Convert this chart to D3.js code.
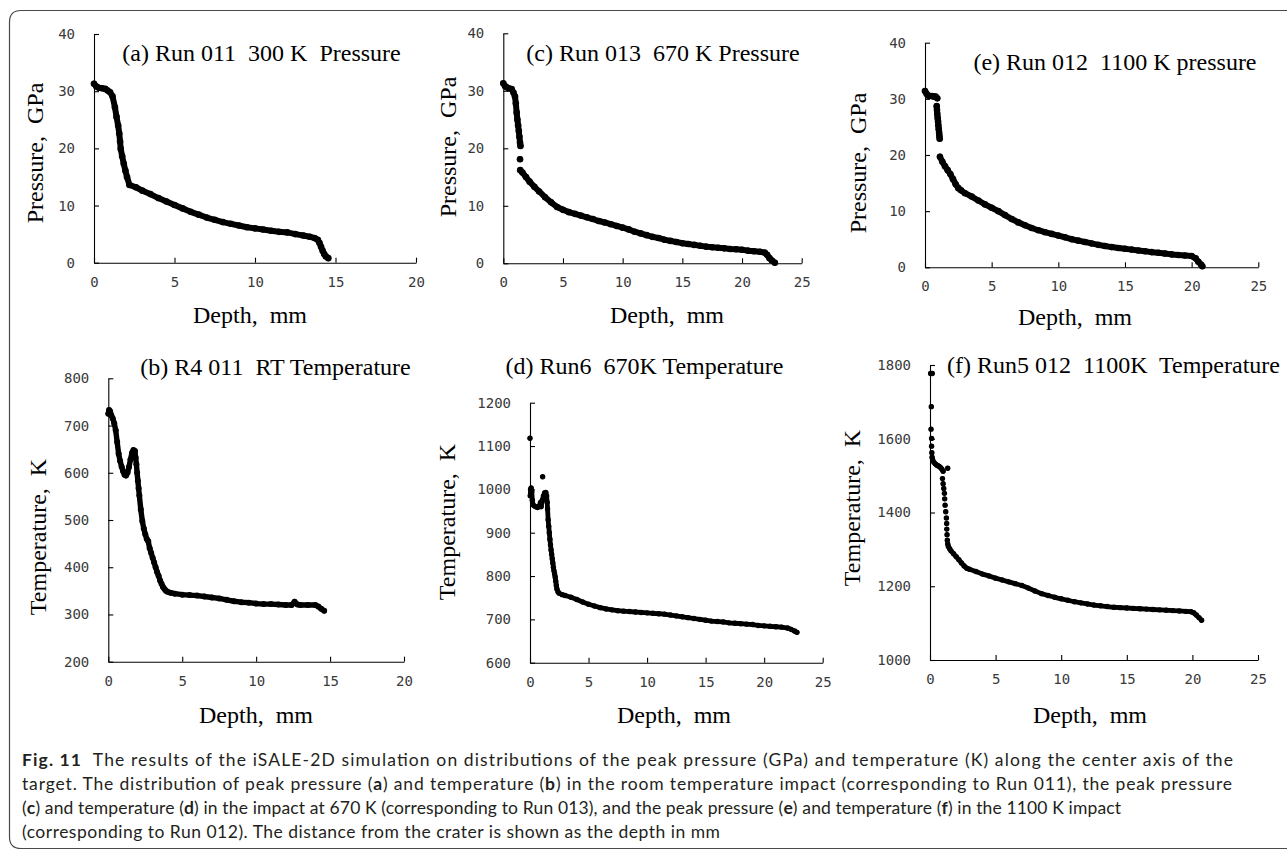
<!DOCTYPE html>
<html><head><meta charset="utf-8">
<script src="https://cdn.jsdelivr.net/npm/d3@7"></script>
<style>body{margin:0;background:#fff}</style>
</head><body>
<svg id="c" width="1287" height="850"></svg>
<script>
// ---------------- DATA ----------------
const ticksP = [0, 10, 20, 30, 40];
const ticksX20 = [0, 5, 10, 15, 20];
const ticksX25 = [0, 5, 10, 15, 20, 25];
const ticksTB = [200, 300, 400, 500, 600, 700, 800];
const ticksTD = [600, 700, 800, 900, 1000, 1100, 1200];
const ticksTF = [1000, 1200, 1400, 1600, 1800];

const titles = ["(a) Run 011  300 K  Pressure", "(b) R4 011  RT Temperature", "(c) Run 013  670 K Pressure",
                "(d) Run6  670K Temperature", "(e) Run 012  1100 K pressure", "(f) Run5 012  1100K  Temperature"];
const yLabels = ["Pressure,  GPa", "Temperature,  K", "Pressure,  GPa", "Temperature,  K", "Pressure,  GPa", "Temperature,  K"];
const xLabel = "Depth,  mm";

// (a) Run 011 pressure, GPa  (null = break in the dotted trace)
const depthA = [0,0.15,0.3,0.5,0.7,0.85,1.0,1.15,1.3,1.4,1.5,1.57,1.62,1.66,1.75,1.85,1.95,2.05,2.2,2.6,3.0,3.5,4.0,4.5,5.0,5.5,6.0,6.5,7.0,7.5,8.0,8.5,9.0,9.5,10.0,10.5,11.0,11.5,12.0,12.5,13.0,13.4,13.7,13.9,14.0,14.1,14.2,14.3,14.4,14.55];
const pressureA = [31.3,30.8,30.6,30.5,30.4,30.1,29.8,29.1,27.2,25.5,24.0,22.6,21.2,19.9,18.6,17.3,16.1,15.0,13.6,13.2,12.6,12.0,11.3,10.7,10.1,9.5,8.9,8.4,7.9,7.5,7.1,6.8,6.5,6.2,6.0,5.8,5.6,5.4,5.3,5.0,4.75,4.55,4.3,4.0,3.5,2.8,2.1,1.5,1.1,0.8];

// (b) R4 011 temperature, K
const depthB = [0,0.05,0.12,0.2,0.3,0.4,0.5,0.6,0.7,0.8,0.9,1.0,1.1,1.2,1.3,1.4,1.5,1.6,1.7,1.8,1.85,1.9,1.95,2.0,2.05,2.1,2.2,2.3,2.4,2.5,2.6,2.7,2.8,2.9,3.0,3.1,3.2,3.3,3.4,3.5,3.6,3.7,3.8,3.9,4.0,4.2,4.5,5.0,5.5,6.0,6.5,7.0,7.5,8.0,8.5,9.0,9.5,10.0,10.5,11.0,11.5,12.0,12.4,12.6,12.8,13.0,13.5,14.0,14.2,14.4,14.6];
const tempB = [725,733,730,722,715,705,690,665,640,625,613,603,596,594,600,612,628,642,648,646,632,618,600,583,567,552,522,498,482,470,460,455,440,430,420,410,400,390,382,372,365,358,354,350,348,346,344,342,341,340,338,336,334,331,328,326,325,323,322,322,321,320,320,327,321,320,320,320,317,312,308];

// (c) Run 013 pressure, GPa
const depthC = [0,0.15,0.3,0.5,0.7,0.85,0.98,1.05,1.12,1.18,1.24,1.3,1.35,1.4,1.44,null,1.4,null,1.42,1.6,1.9,2.2,2.6,3.0,3.5,4.0,4.5,5.0,5.5,6.0,6.5,7.0,7.5,8.0,8.5,9.0,9.5,10.0,10.5,11.0,11.5,12.0,12.5,13.0,13.5,14.0,14.5,15.0,15.5,16.0,16.5,17.0,17.5,18.0,18.5,19.0,19.5,20.0,20.5,21.0,21.5,21.9,22.1,22.3,22.5,22.75];
const pressureC = [31.3,30.8,30.6,30.4,30.3,29.7,29.0,27.8,26.2,25.0,24.0,23.0,22.0,21.0,20.4,null,18.1,null,16.2,15.8,15.0,14.2,13.3,12.5,11.5,10.6,9.8,9.3,8.9,8.6,8.3,8.0,7.7,7.35,7.1,6.8,6.5,6.2,5.9,5.5,5.2,4.9,4.6,4.4,4.1,3.9,3.7,3.5,3.35,3.2,3.05,2.9,2.8,2.7,2.6,2.5,2.45,2.35,2.2,2.1,2.0,1.85,1.5,0.9,0.5,0.1];

// (d) Run6 670K temperature, K
const depthD = [0,null,0.02,0.05,0.1,0.15,0.2,0.25,0.35,0.5,0.65,0.8,0.9,0.95,1.05,1.15,1.25,1.35,1.42,1.47,1.5,1.55,1.6,1.65,1.7,1.75,1.8,1.85,1.9,1.95,2.0,2.05,2.1,2.15,2.2,2.25,2.3,2.4,2.5,2.75,3.0,3.5,4.0,4.5,5.0,5.5,6.0,6.5,7.0,7.5,8.0,8.5,9.0,9.5,10.0,10.5,11.0,11.5,12.0,12.5,13.0,13.5,14.0,14.5,15.0,15.5,16.0,16.5,17.0,17.5,18.0,18.5,19.0,19.5,20.0,20.5,21.0,21.5,22.0,22.3,22.6,22.8,null,1.08];
const tempD = [1118,null,985,1000,1003,995,975,965,962,960,958,962,970,960,975,985,992,993,985,970,955,930,915,900,885,872,860,850,840,830,820,812,805,798,788,778,770,763,760,757,755,751,746,740,735,731,727,724,722,720,719,718,717,716,715,714,713,712,710,708,706,704,702,700,698,696,695,694,692,691,690,689,688,686,685,684,683,682,680,677,673,670,null,1029];

// (e) Run 012 pressure, GPa
const depthE = [0,0.12,0.22,0.35,0.5,0.65,0.8,0.92,null,0.88,0.9,0.92,0.95,0.98,1.0,1.03,1.06,1.08,1.1,null,1.12,1.3,1.5,1.7,1.9,2.1,2.3,2.5,2.7,3.0,3.5,4.0,4.5,5.0,5.5,6.0,6.5,7.0,7.5,8.0,8.5,9.0,9.5,10.0,10.5,11.0,11.5,12.0,12.5,13.0,13.5,14.0,14.5,15.0,15.5,16.0,16.5,17.0,17.5,18.0,18.5,19.0,19.5,20.0,20.3,20.5,20.7,20.8];
const pressureE = [31.4,30.9,30.6,30.5,30.5,30.4,30.4,30.1,null,28.7,28.0,27.3,26.6,26.0,25.3,24.6,24.0,23.4,22.9,null,19.7,18.8,18.0,17.3,16.6,15.7,14.8,14.1,13.7,13.2,12.6,11.9,11.2,10.6,10.0,9.3,8.6,8.0,7.5,7.0,6.6,6.25,5.95,5.65,5.35,5.0,4.75,4.5,4.25,4.0,3.8,3.6,3.45,3.3,3.15,3.0,2.85,2.7,2.6,2.45,2.3,2.2,2.1,2.0,1.6,1.0,0.5,0.2];

// (f) Run5 012 1100K temperature, K
const depthF = [0.05,null,0.17,null,0.1,null,0.08,null,0.12,null,0.12,null,0.14,null,
  0.16,0.2,0.3,0.4,0.5,0.6,0.7,0.8,0.9,1.0,null,1.35,null,
  0.95,null,1.0,null,1.05,null,1.1,null,1.12,null,1.15,null,1.2,null,1.25,null,1.27,null,1.28,null,1.3,null,1.32,null,
  1.35,1.4,1.5,1.6,1.8,2.0,2.2,2.4,2.6,2.8,3.0,3.5,4.0,4.5,5.0,5.5,6.0,6.5,7.0,7.5,8.0,8.5,9.0,9.5,10.0,10.5,11.0,11.5,12.0,12.5,13.0,13.5,14.0,14.5,15.0,15.5,16.0,16.5,17.0,17.5,18.0,18.5,19.0,19.5,19.9,20.1,20.3,20.5,20.7];
const tempF = [1777,null,1777,null,1687,null,1626,null,1601,null,1580,null,1562,null,
  1550,1543,1536,1532,1529,1527,1525,1522,1518,1512,null,1520,null,
  1492,null,1478,null,1465,null,1452,null,1437,null,1420,null,1402,null,1385,null,1370,null,1355,null,1340,null,1325,null,
  1315,1308,1302,1296,1288,1280,1272,1263,1255,1249,1246,1240,1233,1228,1222,1217,1212,1207,1202,1195,1187,1180,1175,1170,1166,1162,1158,1155,1152,1149,1147,1145,1143,1142,1141,1140,1139,1138,1137,1136,1135,1134,1133,1132,1131,1128,1122,1115,1108];

// ---------------- LAYOUT ----------------
const panels = [
  {xs:depthA, ys:pressureA, xDom:[0,20], yDom:[0,40],   xT:ticksX20, yT:ticksP,  x0:94,    x1:416,    top:34,    bot:262.7, r:3.3, ti:0, tx:261.5, ty:53,  lx:35,  ly:153, dx:250,  dy:315},
  {xs:depthB, ys:tempB,     xDom:[0,20], yDom:[200,800],xT:ticksX20, yT:ticksTB, x0:108.3,  x1:404,    top:378.3, bot:661.7, r:3.0, ti:1, tx:275.5, ty:367, lx:38,  ly:537, dx:256,  dy:715},
  {xs:depthC, ys:pressureC, xDom:[0,25], yDom:[0,40],   xT:ticksX25, yT:ticksP,  x0:503.3, x1:801.7,  top:33.3,  bot:263.3, r:3.3, ti:2, tx:663,   ty:53,  lx:448, ly:147, dx:667,  dy:315},
  {xs:depthD, ys:tempD,     xDom:[0,25], yDom:[600,1200],xT:ticksX25,yT:ticksTD, x0:530,   x1:822.7,  top:402.7, bot:662.7, r:2.7, ti:3, tx:644.5, ty:366, lx:447, ly:522, dx:674,  dy:715},
  {xs:depthE, ys:pressureE, xDom:[0,25], yDom:[0,40],   xT:ticksX25, yT:ticksP,  x0:925,   x1:1258.3, top:42.7,  bot:267.3, r:3.3, ti:4, tx:1115,  ty:62,  lx:858, ly:163, dx:1075, dy:317},
  {xs:depthF, ys:tempF,     xDom:[0,25], yDom:[1000,1800],xT:ticksX25,yT:ticksTF,x0:930,   x1:1258,   top:365,   bot:660,   r:2.7, ti:5, tx:1113.5,ty:365, lx:852, ly:508, dx:1090, dy:715}
];

const svg = d3.select('#c');

// frame around figure
svg.append('path')
  .attr('d', 'M1287,10.5 H21 Q9.5,10.5 9.5,22 V837 Q9.5,848.5 21,848.5 H1287')
  .attr('fill', 'none').attr('stroke', '#4a4a4a').attr('stroke-width', 1.2);

const serif = "'Liberation Serif','Times New Roman',serif";

panels.forEach(p => {
  const x = d3.scaleLinear().domain(p.xDom).range([p.x0, p.x1]);
  const y = d3.scaleLinear().domain(p.yDom).range([p.bot, p.top]);
  const g = svg.append('g');

  const gx = g.append('g').attr('transform', `translate(0,${p.bot})`)
    .call(d3.axisBottom(x).tickValues(p.xT).tickFormat(d3.format('d')).tickSize(-5).tickSizeOuter(0).tickPadding(14));
  const gy = g.append('g').attr('transform', `translate(${p.x0},0)`)
    .call(d3.axisLeft(y).tickValues(p.yT).tickFormat(d3.format('d')).tickSize(-5).tickSizeOuter(0).tickPadding(19));
  [gx, gy].forEach(a => {
    a.select('.domain').attr('stroke', '#000').attr('stroke-width', 1.1);
    a.selectAll('.tick line').attr('stroke', '#000').attr('stroke-width', 1.1);
    a.selectAll('.tick text').attr('fill', '#3a3a3a')
      .style('font-family', "'DejaVu Sans Mono',monospace").style('font-size', '14px');
  });

  const pts = p.xs.map((d, i) => ({d: d, v: p.ys[i]}));
  const line = d3.line().defined(q => q.v !== null && q.d !== null)
    .x(q => x(q.d)).y(q => y(q.v));
  g.append('path').datum(pts).attr('d', line)
    .attr('fill', 'none').attr('stroke', '#000')
    .attr('stroke-width', p.r * 2 - 0.6).attr('stroke-linejoin', 'round').attr('stroke-linecap', 'round');
  g.selectAll('circle').data(pts.filter(q => q.v !== null && q.d !== null)).join('circle')
    .attr('cx', q => x(q.d)).attr('cy', q => y(q.v)).attr('r', p.r).attr('fill', '#000');

  g.append('text').attr('x', p.tx).attr('y', p.ty).attr('dy', '0.35em')
    .attr('text-anchor', 'middle').style('font-family', serif).style('font-size', '24px')
    .style('white-space', 'pre').text(titles[p.ti]);
  g.append('text').attr('transform', `translate(${p.lx},${p.ly}) rotate(-90)`).attr('dy', '0.35em')
    .attr('text-anchor', 'middle').style('font-family', serif).style('font-size', '24px')
    .style('white-space', 'pre').text(yLabels[p.ti]);
  g.append('text').attr('x', p.dx).attr('y', p.dy).attr('dy', '0.35em')
    .attr('text-anchor', 'middle').style('font-family', serif).style('font-size', '24px')
    .style('white-space', 'pre').text(xLabel);
});

// ---------------- CAPTION ----------------
const captionLines = [
  [["Fig. 11", true], ["  The results of the iSALE-2D simulation on distributions of the peak pressure (GPa) and temperature (K) along the center axis of the", false]],
  [["target. The distribution of peak pressure (", false], ["a", true], [") and temperature (", false], ["b", true], [") in the room temperature impact (corresponding to Run 011), the peak pressure", false]],
  [["(", false], ["c", true], [") and temperature (", false], ["d", true], [") in the impact at 670 K (corresponding to Run 013), and the peak pressure (", false], ["e", true], [") and temperature (", false], ["f", true], [") in the 1100 K impact", false]],
  [["(corresponding to Run 012). The distance from the crater is shown as the depth in mm", false]]
];
const capY = [766, 790, 814, 838];
const capW = [1211, 1210, 1099, 698];
captionLines.forEach((parts, i) => {
  const t = svg.append('text').attr('x', 22).attr('y', capY[i])
    .style('font-family', "Lato,'Open Sans',sans-serif").style('font-size', '17.5px')
    .style('white-space', 'pre').attr('fill', '#231f20');
  parts.forEach(([s, b]) => t.append('tspan').attr('font-weight', b ? 700 : 400).text(s));
  t.attr('textLength', capW[i]).attr('lengthAdjust', 'spacing');
});
</script>
</body></html>
